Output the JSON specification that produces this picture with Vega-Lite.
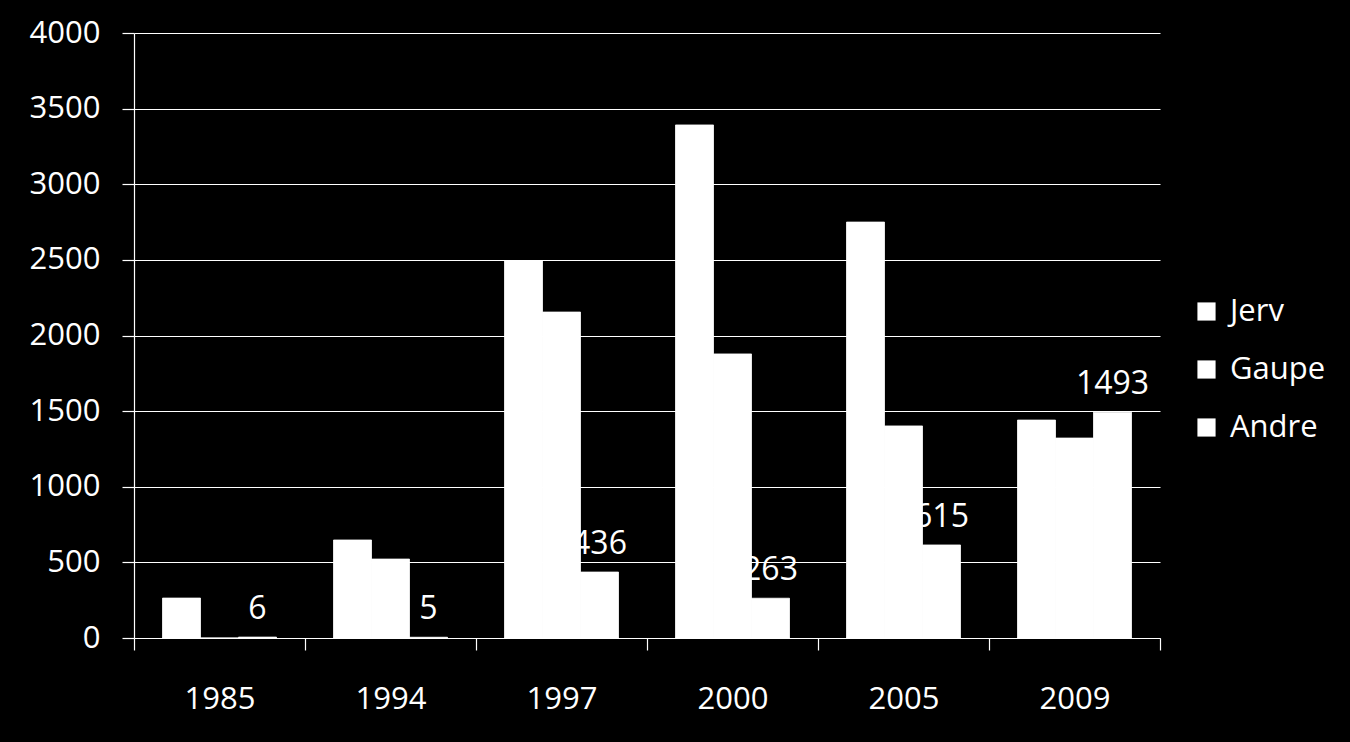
{
  "$schema": "https://vega.github.io/schema/vega-lite/v6.json",
  "autosize": {"type": "none"},
  "width": 1026,
  "height": 605,
  "padding": {"left": 134, "top": 33, "right": 190, "bottom": 104},
  "background": "#000000",
  "config": {
    "view": {"stroke": null},
    "font": "Open Sans",
    "axis": {"labelFont": "Open Sans", "labelColor": "#ffffff", "labelFontSize": 31, "domainColor": "#ffffff", "tickColor": "#ffffff", "gridColor": "#ffffff", "gridOpacity": 1, "domainWidth": 1.2, "tickWidth": 1.2, "gridWidth": 1.2}
  },
  "data": {
    "values": [
      {"year": "1985", "series": "Jerv", "value": 264},
      {"year": "1985", "series": "Gaupe", "value": 0},
      {"year": "1985", "series": "Andre", "value": 6},
      {"year": "1994", "series": "Jerv", "value": 648},
      {"year": "1994", "series": "Gaupe", "value": 522},
      {"year": "1994", "series": "Andre", "value": 5},
      {"year": "1997", "series": "Jerv", "value": 2493},
      {"year": "1997", "series": "Gaupe", "value": 2155},
      {"year": "1997", "series": "Andre", "value": 436},
      {"year": "2000", "series": "Jerv", "value": 3392},
      {"year": "2000", "series": "Gaupe", "value": 1878},
      {"year": "2000", "series": "Andre", "value": 263},
      {"year": "2005", "series": "Jerv", "value": 2750},
      {"year": "2005", "series": "Gaupe", "value": 1402},
      {"year": "2005", "series": "Andre", "value": 615},
      {"year": "2009", "series": "Jerv", "value": 1441},
      {"year": "2009", "series": "Gaupe", "value": 1322},
      {"year": "2009", "series": "Andre", "value": 1493}
    ]
  },
  "encoding": {
    "x": {
      "field": "year", "type": "nominal", "sort": null,
      "scale": {"paddingInner": 0, "paddingOuter": 0},
      "axis": {"title": null, "labelAngle": 0, "tickBand": "extent", "tickSize": 12, "labelPadding": 34, "grid": false}
    },
    "xOffset": {"field": "series", "type": "nominal", "sort": ["Jerv", "Gaupe", "Andre"], "scale": {"paddingInner": 0, "paddingOuter": 0.75}},
    "y": {
      "field": "value", "type": "quantitative",
      "scale": {"domain": [0, 4000], "nice": false},
      "axis": {"title": null, "format": "d", "values": [0, 500, 1000, 1500, 2000, 2500, 3000, 3500, 4000], "tickSize": 12, "labelPadding": 22, "grid": true, "gridColor": "#ffffff"}
    }
  },
  "layer": [
    {
      "mark": {"type": "bar", "stroke": "#ffffff", "strokeWidth": 0.8},
      "encoding": {
        "color": {
          "field": "series", "type": "nominal", "sort": ["Jerv", "Gaupe", "Andre"],
          "scale": {"domain": ["Jerv", "Gaupe", "Andre"], "range": ["#ffffff", "#ffffff", "#ffffff"]},
          "legend": {
            "title": null, "orient": "none", "legendX": 1057, "legendY": 263,
            "symbolType": "square", "symbolSize": 330, "symbolFillColor": "#ffffff", "symbolStrokeWidth": 0,
            "labelColor": "#ffffff", "labelFont": "Open Sans", "labelFontSize": 31, "rowPadding": 26, "labelOffset": 8
          }
        }
      }
    },
    {
      "transform": [{"filter": "datum.series === 'Andre'"}],
      "mark": {"type": "text", "color": "#ffffff", "fontSize": 32, "font": "Open Sans", "baseline": "alphabetic", "dy": -18},
      "encoding": {"text": {"field": "value", "type": "quantitative"}}
    }
  ]
}
